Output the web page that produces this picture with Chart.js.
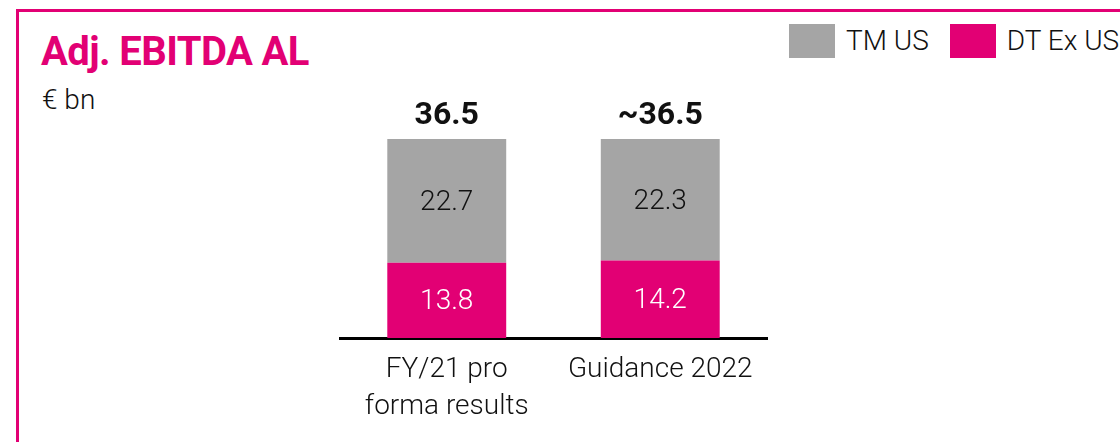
<!DOCTYPE html>
<html>
<head>
<meta charset="utf-8">
<script src="https://cdn.jsdelivr.net/npm/chart.js@4/dist/chart.umd.min.js"></script>
<style>
  html, body { margin: 0; padding: 0; background: #fff; }
  body { width: 1120px; height: 442px; position: relative; overflow: hidden; font-family: Roboto, "Open Sans", sans-serif; }
  #frame { position: absolute; left: 16px; top: 9px; width: 1200px; height: 600px; border: 3px solid #E20074; box-sizing: border-box; }
  #title { position: absolute; left: 41px; top: 26px; font-size: 40px; font-weight: 700; color: #E20074; letter-spacing: -0.6px; line-height: 52px; white-space: nowrap; }
  #unit { position: absolute; left: 42px; top: 83px; font-size: 28px; font-weight: 300; color: #111; line-height: 34px; }
  #legend { position: absolute; left: 789px; top: 24px; display: flex; align-items: center; white-space: nowrap; }
  .li { display: flex; align-items: center; margin-right: 21px; }
  .sw { width: 46px; height: 34px; margin-right: 11px; }
  .lt { font-size: 28px; font-weight: 300; color: #111; line-height: 34px; }
  canvas { position: absolute; left: 0; top: 0; }
</style>
</head>
<body>
<div id="frame"></div>
<div id="title">Adj. EBITDA AL</div>
<div id="unit">€ bn</div>
<div id="legend"></div>
<canvas id="c" width="1120" height="442"></canvas>
<script>
const categories = [["FY/21 pro", "forma results"], "Guidance 2022"];
const dtExUS = [13.8, 14.2];
const tmUS = [22.7, 22.3];
const totalLabels = ["36.5", "~36.5"];
const seriesNames = ["TM US", "DT Ex US"];
const MAGENTA = "#E20074";
const GREY = "#A5A5A5";

const datasets = [
  { label: "DT Ex US", data: dtExUS, backgroundColor: MAGENTA, labelColor: "#ffffff" },
  { label: "TM US", data: tmUS, backgroundColor: GREY, labelColor: "#111111" }
];

// HTML legend (order: TM US, DT Ex US)
const legendEl = document.getElementById('legend');
seriesNames.forEach(name => {
  const ds = datasets.find(d => d.label === name);
  const item = document.createElement('div'); item.className = 'li';
  const sw = document.createElement('div'); sw.className = 'sw'; sw.style.background = ds.backgroundColor;
  const t = document.createElement('span'); t.className = 'lt'; t.textContent = name;
  item.appendChild(sw); item.appendChild(t); legendEl.appendChild(item);
});

const labelPlugin = {
  id: 'labels',
  afterDatasetsDraw(chart) {
    const ctx = chart.ctx;
    ctx.save();
    ctx.textAlign = 'center';
    chart.data.datasets.forEach((ds, di) => {
      const meta = chart.getDatasetMeta(di);
      meta.data.forEach((bar, i) => {
        ctx.fillStyle = ds.labelColor;
        ctx.font = '300 28px Roboto, sans-serif';
        ctx.textBaseline = 'middle';
        ctx.fillText(ds.data[i].toFixed(1), bar.x, (bar.y + bar.base) / 2 + 2);
      });
    });
    const topMeta = chart.getDatasetMeta(chart.data.datasets.length - 1);
    topMeta.data.forEach((bar, i) => {
      ctx.fillStyle = '#111';
      ctx.font = 'bold 32px Roboto, sans-serif';
      ctx.textBaseline = 'alphabetic';
      ctx.fillText(totalLabels[i], bar.x, bar.y - 15);
    });
    ctx.restore();
  }
};

new Chart(document.getElementById('c'), {
  type: 'bar',
  data: { labels: categories, datasets: datasets },
  options: {
    responsive: false,
    animation: false,
    layout: { padding: { left: 340, right: 353, top: 90, bottom: 0 } },
    plugins: { legend: { display: false }, tooltip: { enabled: false }, title: { display: false } },
    datasets: { bar: { categoryPercentage: 1.0, barPercentage: 0.557, borderWidth: 0 } },
    scales: {
      x: {
        stacked: true,
        grid: { display: false, drawTicks: false },
        border: { display: true, color: '#000', width: 3 },
        ticks: { color: '#111', font: { family: 'Roboto', size: 28, weight: '300', lineHeight: 1.32 }, padding: 14, maxRotation: 0, autoSkip: false },
        afterFit(scale) { scale.height = 104; }
      },
      y: { stacked: true, display: false, min: 0, max: 45.5 }
    }
  },
  plugins: [labelPlugin]
});
</script>
</body>
</html>
